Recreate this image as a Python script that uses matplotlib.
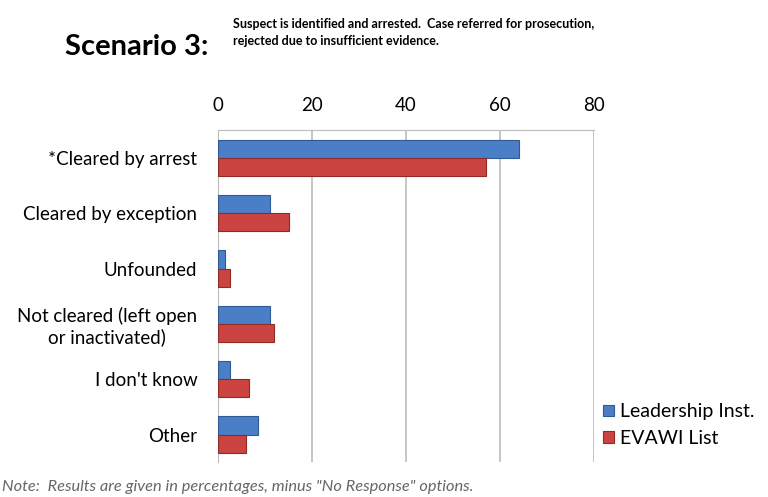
import numpy as np
import matplotlib.pyplot as plt

# data
categories = ['*Cleared by arrest', 'Cleared by exception', 'Unfounded',
              'Not cleared (left open\nor inactivated)', "I don't know", 'Other']
leadership = [64, 11, 1.5, 11, 2.5, 8.5]
evawi = [57, 15, 2.5, 12, 6.5, 6]
ticks = [0, 20, 40, 60, 80]

plt.rcParams['font.family'] = ['Lato', 'DejaVu Sans']

fig = plt.figure(figsize=(7.68, 4.97), dpi=100)
ax = fig.add_axes([0.284, 0.07, 0.489, 0.668])

y = np.arange(len(categories))
h = 0.33
ax.barh(y - h / 2, leadership, height=h, color='#4A7EC7', edgecolor='#2F5A94',
        linewidth=0.8, label='Leadership Inst.', zorder=3)
ax.barh(y + h / 2, evawi, height=h, color='#CC4441', edgecolor='#8E2B28',
        linewidth=0.8, label='EVAWI List', zorder=3)

ax.set_ylim(len(categories) - 0.5, -0.5)
ax.set_xlim(0, 80)
ax.set_yticks(y)
ax.set_yticklabels(categories, fontsize=13.5, linespacing=1.2, ha='right',
                   multialignment='center')
ax.set_xticks(ticks)
ax.xaxis.tick_top()
ax.tick_params(axis='x', labelsize=13.5, length=0, pad=12)
ax.tick_params(axis='y', length=0, pad=15)
ax.xaxis.grid(True, color='#BBBBBB', linewidth=1.2, zorder=0)
for s in ['right', 'bottom']:
    ax.spines[s].set_visible(False)
ax.spines['top'].set_color('#BBBBBB')
ax.spines['left'].set_color('#BBBBBB')

fig.text(0.085, 0.905, 'Scenario 3:', fontsize=21, fontweight='bold', va='center')
fig.text(0.303, 0.935, 'Suspect is identified and arrested.  Case referred for prosecution,\n'
         'rejected due to insufficient evidence.', fontsize=9, fontweight='bold',
         va='center', linespacing=1.5)

fig.legend(loc='lower left', bbox_to_anchor=(0.775, 0.085), frameon=False,
           fontsize=14, handlelength=0.55, handleheight=0.55, handletextpad=0.3,
           labelspacing=0.5, borderaxespad=0)

fig.text(0.003, 0.012, 'Note:  Results are given in percentages, minus "No Response" options.',
         fontsize=11.8, style='italic', color='#666666')

fig.savefig('out.png', dpi=100)
